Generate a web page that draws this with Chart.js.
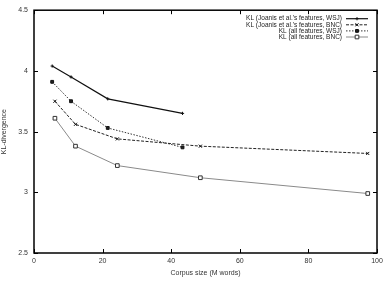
<!DOCTYPE html>
<html>
<head>
<meta charset="utf-8">
<script src="https://cdn.jsdelivr.net/npm/chart.js@4"></script>
<style>
  html, body { margin: 0; padding: 0; background: #fff; }
  #wrap { width: 389px; height: 284px; }
</style>
</head>
<body>
<div id="wrap"><canvas id="chart" width="389" height="284"></canvas></div>
<script>
// corpus sizes (M words)
const wsjSizes = [5.3, 10.8, 21.5, 43.3]
const bncSizes = [6.1, 12.1, 24.3, 48.5, 97.3]

// KL divergence values
const klJoanisWsj = [4.04, 3.95, 3.77, 3.65]
const klJoanisBnc = [3.75, 3.56, 3.44, 3.38, 3.32]
const klAllWsj = [3.91, 3.75, 3.53, 3.37]
const klAllBnc = [3.61, 3.38, 3.22, 3.12, 2.99]

const seriesLabels = [
  'KL (Joanis et al.\'s features, WSJ)',
  'KL (Joanis et al.\'s features, BNC)',
  'KL (all features, WSJ)',
  'KL (all features, BNC)',
]

const xTicks = [0, 20, 40, 60, 80, 100]
const yTicks = [2.5, 3, 3.5, 4, 4.5]

const FONT = '"Liberation Sans", Arial, sans-serif'
const pts = (xs, ys) => xs.map((x, i) => ({x, y: ys[i]}))

// gnuplot style inward ticks on all four sides
const insideTicks = {
  id: 'insideTicks',
  afterDraw(chart) {
    const {ctx, chartArea: a, scales: {x, y}} = chart
    ctx.save()
    ctx.strokeStyle = '#000'
    ctx.lineWidth = 1
    ctx.beginPath()
    xTicks.forEach(v => {
      const px = Math.round(x.getPixelForValue(v)) + 0.5
      ctx.moveTo(px, a.bottom); ctx.lineTo(px, a.bottom - 4)
      ctx.moveTo(px, a.top); ctx.lineTo(px, a.top + 4)
    })
    yTicks.forEach(v => {
      const py = Math.round(y.getPixelForValue(v)) + 0.5
      ctx.moveTo(a.left, py); ctx.lineTo(a.left + 4, py)
      ctx.moveTo(a.right, py); ctx.lineTo(a.right - 4, py)
    })
    ctx.stroke()
    ctx.lineWidth = 1.5
    ctx.strokeRect(a.left, a.top, a.right - a.left, a.bottom - a.top)
    ctx.restore()
  },
}

// legend: right-aligned text, line sample with marker on the right
const keyLegend = {
  id: 'keyLegend',
  afterDraw(chart) {
    const {ctx, chartArea: a} = chart
    ctx.save()
    ctx.font = '6.5px ' + FONT
    ctx.textAlign = 'right'
    ctx.textBaseline = 'middle'
    chart.data.datasets.forEach((ds, i) => {
      const yy = a.top + 8.5 + i * 6.1
      ctx.fillStyle = '#222'
      ctx.fillText(ds.label, a.right - 35, yy)
      const x0 = a.right - 31, x1 = a.right - 9
      ctx.strokeStyle = ds.borderColor
      ctx.lineWidth = ds.borderWidth
      ctx.setLineDash(ds.borderDash || [])
      ctx.beginPath(); ctx.moveTo(x0, yy); ctx.lineTo(x1, yy); ctx.stroke()
      ctx.setLineDash([])
      ctx.fillStyle = ds.pointBackgroundColor
      ctx.strokeStyle = ds.pointBorderColor
      ctx.lineWidth = 1
      Chart.helpers.drawPoint(ctx, {
        pointStyle: ds.pointStyle, radius: ds.pointRadius, borderWidth: 1,
      }, (x0 + x1) / 2, yy)
    })
    ctx.restore()
  },
}

const config = {
  type: 'scatter',
  data: {
    datasets: [
      {
        label: seriesLabels[0], data: pts(wsjSizes, klJoanisWsj), showLine: true,
        borderColor: '#111', borderWidth: 1.2, pointStyle: 'cross', pointRadius: 1.6,
        pointBorderColor: '#111', pointBackgroundColor: '#111', pointBorderWidth: 1,
      },
      {
        label: seriesLabels[1], data: pts(bncSizes, klJoanisBnc), showLine: true,
        borderColor: '#222', borderWidth: 1, borderDash: [3, 1.5], pointStyle: 'crossRot', pointRadius: 2.2,
        pointBorderColor: '#111', pointBackgroundColor: '#111', pointBorderWidth: 1,
      },
      {
        label: seriesLabels[2], data: pts(wsjSizes, klAllWsj), showLine: true,
        borderColor: '#333', borderWidth: 1, borderDash: [1.5, 1.5], pointStyle: 'rect', pointRadius: 2,
        pointBorderColor: '#111', pointBackgroundColor: '#222', pointBorderWidth: 1,
      },
      {
        label: seriesLabels[3], data: pts(bncSizes, klAllBnc), showLine: true,
        borderColor: '#8a8a8a', borderWidth: 1, pointStyle: 'rect', pointRadius: 2.6,
        pointBorderColor: '#333', pointBackgroundColor: '#fff', pointBorderWidth: 1,
      },
    ],
  },
  options: {
    responsive: false,
    animation: false,
    layout: {padding: {top: 9, right: 12, left: 0, bottom: 0}},
    plugins: {legend: {display: false}, tooltip: {enabled: false}},
    scales: {
      x: {
        type: 'linear', min: 0, max: 100,
        afterBuildTicks: s => { s.ticks = xTicks.map(v => ({value: v})) },
        afterFit: s => { s.height = 31 },
        grid: {display: false, drawTicks: false, tickLength: 0},
        border: {display: false},
        ticks: {font: {family: FONT, size: 7}, color: '#333', padding: 4, maxRotation: 0, callback: v => String(v)},
        title: {display: true, text: 'Corpus size (M words)', font: {family: FONT, size: 7}, color: '#333', padding: {top: 3, bottom: 7}},
      },
      y: {
        type: 'linear', min: 2.5, max: 4.5,
        afterBuildTicks: s => { s.ticks = yTicks.map(v => ({value: v})) },
        afterFit: s => { s.width = 34 },
        grid: {display: false, drawTicks: false, tickLength: 0},
        border: {display: false},
        ticks: {font: {family: FONT, size: 7}, color: '#333', padding: 6, callback: v => String(v)},
        title: {display: true, text: 'KL-divergence', font: {family: FONT, size: 7}, color: '#333', padding: {top: 0, bottom: 0}},
      },
    },
  },
  plugins: [insideTicks, keyLegend],
}

const ctx = document.getElementById('chart').getContext('2d')
// eslint-disable-next-line no-unused-vars
const chart = new Chart(ctx, config)
</script>
</body>
</html>
